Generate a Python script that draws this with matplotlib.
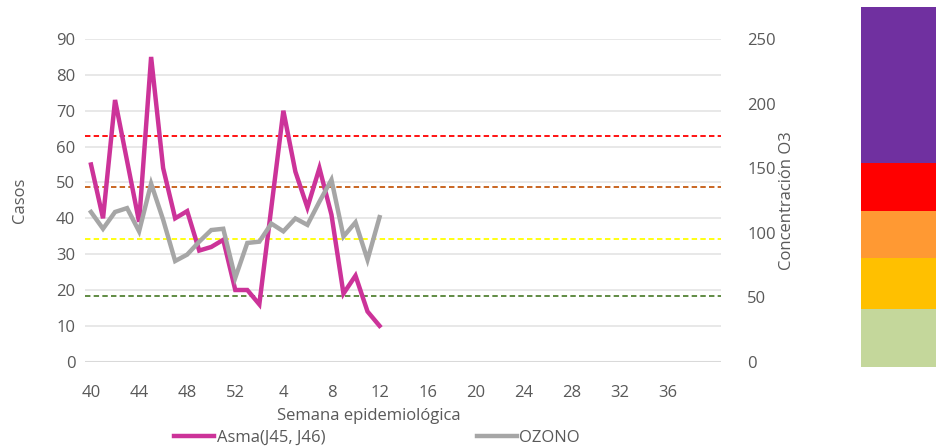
import matplotlib
matplotlib.use("Agg")
import matplotlib.pyplot as plt
import numpy as np

# semanas epidemiológicas 40-52 y 1-39
weeks = list(range(40, 53)) + list(range(1, 40))

# casos de asma (J45, J46) por semana
asma = [55, 40, 73, 56, 39, 85, 54, 40, 42, 31, 32, 34, 20,
        20, 16, 43, 70, 53, 43, 54, 41, 19, 24, 14, 10]

# concentración de ozono por semana
ozono = [116, 103, 116, 119, 101, 138, 110, 78, 83, 93, 102, 103, 65,
         92, 93, 107, 101, 111, 106, 124, 141, 97, 108, 79, 112]

# límites de calidad del aire para O3
limites = [51, 95, 135, 175]
colores_limite = ["#548235", "#FFFF00", "#C55A11", "#FF0000"]

# barra de colores de la escala (alturas relativas, de abajo hacia arriba)
escala_alto = [58, 51, 47, 48, 156]
escala_color = ["#C4D79B", "#FFC000", "#FF9933", "#FF0000", "#7030A0"]

plt.rcParams["font.family"] = ["Open Sans", "DejaVu Sans"]
txt = "#595959"
fs = 12

fig = plt.figure(figsize=(9.36, 4.48), dpi=100)
ax = fig.add_axes([0.0908, 0.1926, 0.6795, 0.7203])
ax2 = ax.twinx()

x = np.arange(len(weeks))
ax.set_xlim(-0.5, 52.4)
ax.set_ylim(0, 90)
ax2.set_ylim(0, 250)

ax.set_yticks(range(0, 91, 10))
ax2.set_yticks(range(0, 251, 50))
ax.grid(axis="y", color="#E6E6E6", linewidth=1.3)
ax.axhline(0, color="#D9D9D9", linewidth=1.5)
ax.set_axisbelow(True)

# líneas de límite en la escala de ozono
for v, c in zip(limites, colores_limite):
    ax.plot([-0.5, 52.4], [v, v], color=c, linewidth=1.3, dashes=(3, 1.8),
            transform=ax2.transData, zorder=2)

la, = ax.plot(x[:len(asma)], asma, color="#CC3399", linewidth=3.2,
              solid_joinstyle="miter", zorder=3, label="Asma(J45, J46)")
lo, = ax2.plot(x[:len(ozono)], ozono, color="#A6A6A6", linewidth=3.2,
               solid_joinstyle="miter", zorder=3, label="OZONO")

ticks = x[::4][:13]
ax.set_xticks(ticks)
ax.set_xticklabels([str(weeks[i]) for i in ticks])

for a in (ax, ax2):
    for s in a.spines.values():
        s.set_visible(False)
    a.tick_params(length=0, labelsize=fs, labelcolor=txt)
ax.tick_params(axis="x", pad=17)
ax.tick_params(axis="y", pad=7)
ax2.tick_params(axis="y", pad=19)

ax.set_ylabel("Casos", fontsize=fs, color=txt, labelpad=20)
ax2.set_ylabel("Concentración O3", fontsize=fs, color=txt, labelpad=2)
fig.text(0.394, 0.071, "Semana epidemiológica", fontsize=fs, color=txt,
         ha="center", va="center")

fig.legend(handles=[la, lo], loc="center left", bbox_to_anchor=(0.186, 0.022),
           ncol=2, frameon=False, fontsize=fs, labelcolor=txt,
           handlelength=2.4, handletextpad=0.15, columnspacing=9.1,
           borderpad=0, borderaxespad=0)

# escala de colores a la derecha
cax = fig.add_axes([0.920, 0.181, 0.080, 0.803])
fondo = np.concatenate([[0], np.cumsum(escala_alto)[:-1]])
cax.bar(0, escala_alto, bottom=fondo, width=1, color=escala_color, align="edge")
cax.set_xlim(0, 1)
cax.set_ylim(0, sum(escala_alto))
cax.axis("off")

fig.savefig("out.png", dpi=100)
